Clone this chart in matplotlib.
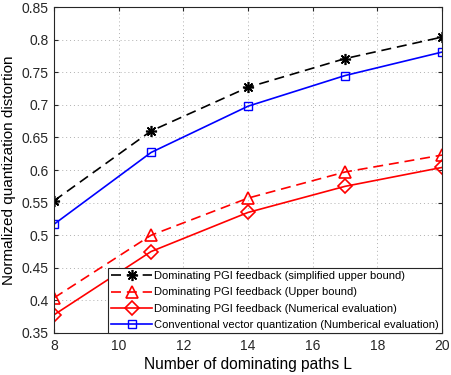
import matplotlib
matplotlib.use("Agg")
import matplotlib.pyplot as plt

plt.rcParams['font.family'] = ['Liberation Sans', 'DejaVu Sans']

L = [8, 11, 14, 17, 20]
simplified_upper = [0.553, 0.660, 0.727, 0.771, 0.804]
upper_bound = [0.404, 0.500, 0.557, 0.597, 0.623]
numerical = [0.378, 0.475, 0.535, 0.575, 0.604]
conventional = [0.517, 0.627, 0.698, 0.745, 0.781]

labels = [
    "Dominating PGI feedback (simplified upper bound)",
    "Dominating PGI feedback (Upper bound)",
    "Dominating PGI feedback (Numerical evaluation)",
    "Conventional vector quantization (Numberical evaluation)",
]
xticks = [8, 10, 12, 14, 16, 18, 20]
yticks = [0.35, 0.4, 0.45, 0.5, 0.55, 0.6, 0.65, 0.7, 0.75, 0.8, 0.85]
yticklabels = ["0.35", "0.4", "0.45", "0.5", "0.55", "0.6", "0.65", "0.7", "0.75", "0.8", "0.85"]

fig = plt.figure(figsize=(4.51, 3.75), dpi=100)
ax = fig.add_axes([0.12, 0.112, 0.86, 0.869])

ax.plot(L, simplified_upper, color='black', linestyle=(0, (6, 3.5)), marker=(8, 2, 0),
        markersize=8, markeredgewidth=1.2, linewidth=1.2, label=labels[0])
ax.plot(L, upper_bound, color='red', linestyle=(0, (6, 3.5)), marker='^',
        markersize=9, markerfacecolor='none', markeredgewidth=1.2, linewidth=1.2, label=labels[1])
ax.plot(L, numerical, color='red', linestyle='-', marker='D',
        markersize=7, markerfacecolor='none', markeredgewidth=1.2, linewidth=1.2, label=labels[2])
ax.plot(L, conventional, color='blue', linestyle='-', marker='s',
        markersize=6, markerfacecolor='none', markeredgewidth=1.0, linewidth=1.2, label=labels[3])

ax.set_xlim(8, 20)
ax.set_ylim(0.35, 0.85)
ax.set_xticks(xticks)
ax.set_yticks(yticks)
ax.set_yticklabels(yticklabels)
ax.tick_params(direction='in', labelsize=10, top=True, right=True, length=3, colors='#262626', pad=4)
ax.grid(True, linestyle=(0, (1, 3)), color='#b0b0b0', linewidth=0.7)
for s in ax.spines.values():
    s.set_color('#262626')
    s.set_linewidth(0.8)

ax.set_xlabel("Number of dominating paths L", fontsize=11.2, labelpad=3)
ax.set_ylabel("Normalized quantization distortion", fontsize=11, labelpad=4)

leg = ax.legend(loc='lower right', fontsize=8, frameon=True, fancybox=False,
                edgecolor='#262626', framealpha=1, borderaxespad=0, handlelength=3.7,
                borderpad=0.3, labelspacing=0.55, handletextpad=0.15)
leg.get_frame().set_linewidth(0.8)

fig.savefig("out.png", dpi=100)
